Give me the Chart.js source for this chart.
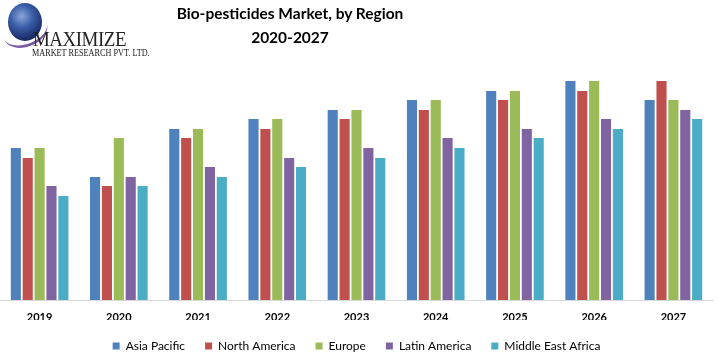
<!DOCTYPE html>
<html>
<head>
<meta charset="utf-8">
<script src="https://cdn.jsdelivr.net/npm/chart.js@4/dist/chart.umd.min.js"></script>
<style>
  html, body { margin:0; padding:0; background:#fff; width:718px; height:357px; overflow:hidden; }
  #wrap { position:relative; width:718px; height:362px; }
  #title { position:absolute; left:140px; width:300px; top:1px; text-align:center; font-family:Lato, "Open Sans", sans-serif; font-weight:bold; font-size:15.5px; line-height:24px; color:#000; }
  #logo { position:absolute; left:0; top:0; width:160px; height:60px; }
  #globe { position:absolute; left:8px; top:3px; width:34px; height:38px; border-radius:50%;
    background: radial-gradient(circle at 40% 35%, #8aa7d8 0%, #3a5ea8 35%, #1d2f6b 70%, #0c1640 100%); }
  #swoosh { position:absolute; left:2px; top:14px; width:46px; height:30px; border-radius:50%; border-bottom:3px solid #7b5aa6; transform:rotate(-20deg); }
  #mx { position:absolute; left:33px; top:27px; font-family:"Liberation Serif", "DejaVu Serif", serif; font-size:21px; letter-spacing:-0.5px; color:#222; transform:scaleX(0.9); transform-origin:left; }
  #mr { position:absolute; left:32px; top:47px; font-family:"Liberation Serif", "DejaVu Serif", serif; font-size:10px; color:#222; white-space:nowrap; transform:scaleX(0.82); transform-origin:left; }
  canvas { position:absolute; left:0; top:0; }
</style>
</head>
<body>
<div id="wrap">
  <canvas id="c" width="718" height="362"></canvas>
  <div id="logo"><div id="swoosh"></div><div id="globe"></div><div id="mx">MAXIMIZE</div><div id="mr">MARKET RESEARCH PVT. LTD.</div></div>
  <div id="title">Bio-pesticides Market, by Region<br>2020-2027</div>
</div>
<script>
const years = ['2019','2020','2021','2022','2023','2024','2025','2026','2027'];
const seriesNames = ['Asia Pacific','North America','Europe','Latin America','Middle East Africa'];
const asiaPacific   = [15.2, 12.3, 17.1, 18.1, 19.0, 20.0, 20.9, 21.9, 20.0];
const northAmerica  = [14.2, 11.4, 16.2, 17.1, 18.1, 19.0, 20.0, 20.9, 21.9];
const europe        = [15.2, 16.2, 17.1, 18.1, 19.0, 20.0, 20.9, 21.9, 20.0];
const latinAmerica  = [11.4, 12.3, 13.3, 14.2, 15.2, 16.2, 17.1, 18.1, 19.0];
const middleEastAfrica = [10.4, 11.4, 12.3, 13.3, 14.2, 15.2, 16.2, 17.1, 18.1];
const colors = ['#4F81BD','#C0504D','#9BBB59','#8064A2','#4BACC6'];

const values = [asiaPacific, northAmerica, europe, latinAmerica, middleEastAfrica];
const font = 'Lato, "Open Sans", sans-serif';

new Chart(document.getElementById('c'), {
  type: 'bar',
  data: {
    labels: years,
    datasets: seriesNames.map((n, i) => ({
      label: n,
      data: values[i],
      backgroundColor: colors[i],
      borderWidth: 0,
      categoryPercentage: 0.75,
      barPercentage: 0.85
    }))
  },
  options: {
    responsive: false,
    animation: false,
    layout: { padding: { left: 0, right: 5, top: 50, bottom: 0 } },
    plugins: {
      title: { display: false },
      tooltip: { enabled: false },
      legend: {
        position: 'bottom',
        labels: { font: { family: font, size: 12 }, color: '#000', boxWidth: 7, boxHeight: 7, padding: 20 }
      }
    },
    scales: {
      x: {
        grid: { display: false, drawTicks: false },
        border: { display: true, color: '#d9d9d9', width: 1 },
        ticks: { font: { family: font, size: 11, weight: 'bold' }, color: '#000', padding: 11, maxRotation: 0 },
        afterFit: (s) => { s.height = 20; }
      },
      y: {
        display: false,
        min: 0,
        max: 25
      }
    }
  }
});
</script>
</body>
</html>
